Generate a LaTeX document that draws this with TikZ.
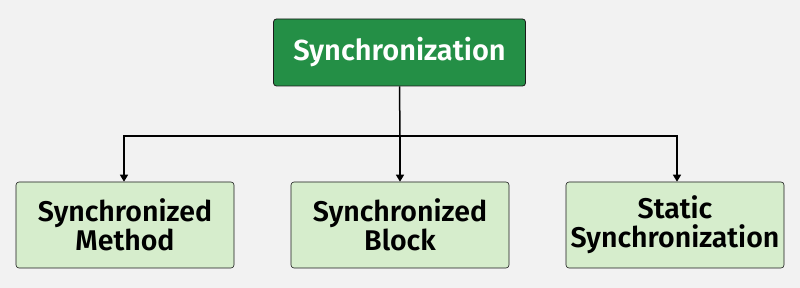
\documentclass[tikz,border=0pt]{standalone}
\usepackage{fontspec}
\setmainfont{Fira Sans}[BoldFont={Fira Sans SemiBold}]
\usetikzlibrary{arrows.meta}
\definecolor{bg}{HTML}{F2F2F2}
\definecolor{topgreen}{HTML}{248F46}
\definecolor{lightgreen}{HTML}{D6EDCC}
\definecolor{edge}{HTML}{1A1A1A}
\begin{document}
\begin{tikzpicture}[x=1pt,y=-1pt,
  topbox/.style={draw=edge, line width=0.8pt, fill=topgreen, rounded corners=3pt, text=white,
    font=\fontsize{29}{30}\selectfont\bfseries, minimum width=252pt, minimum height=67pt, inner sep=0pt},
  leafbox/.style={draw=edge, line width=0.6pt, fill=lightgreen, rounded corners=3pt, text=black,
    font=\fontsize{28.5}{29}\selectfont\bfseries, minimum width=218pt, minimum height=86pt,
    inner sep=0pt, align=center},
  link/.style={draw=black, line width=1.5pt},
  conn/.style={link, -{Triangle[length=7pt,width=8pt]}}]
\useasboundingbox[fill=bg] (0,0) rectangle (800,288);
\node[topbox] (root) at (399.5,52.5) {Synchronization};
\node[leafbox] (m) at (125,225) {Synchronized\\Method};
\node[leafbox] (b) at (400,225) {Synchronized\\Block};
\node[leafbox] (s) at (675,225) {Static\\Synchronization};
\coordinate (j) at (400,136);
\coordinate (jl) at (124,136);
\coordinate (jr) at (677,136);
\draw[link] (root.south) -- (j);
\draw[link, line cap=rect] (jl) -- (jr);
\draw[conn] (jl) -- (jl |- m.north);
\draw[conn] (j) -- (b.north);
\draw[conn] (jr) -- (jr |- s.north);
\end{tikzpicture}
\end{document}
